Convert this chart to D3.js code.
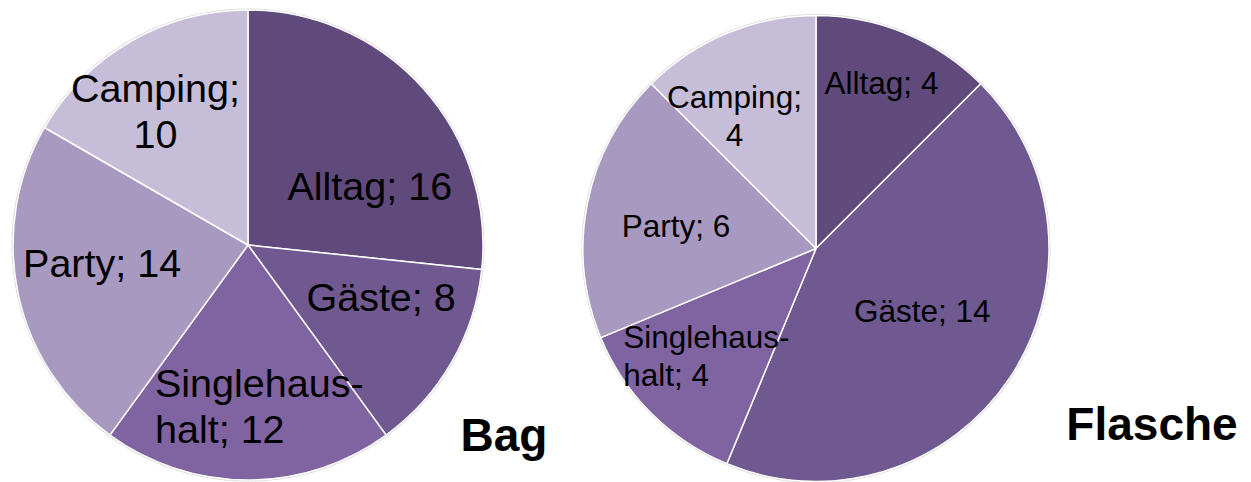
<!DOCTYPE html>
<html>
<head>
<meta charset="utf-8">
<script src="https://cdn.jsdelivr.net/npm/d3@7"></script>
<style>
  html, body { margin: 0; padding: 0; background: #ffffff; }
  svg { display: block; }
  text { font-family: "Liberation Sans", Arial, sans-serif; }
</style>
</head>
<body>
<svg id="chart" width="1251" height="482"></svg>
<script>
// ---- data ----
const categories = ["Alltag", "Gäste", "Singlehaushalt", "Party", "Camping"];
const bagValues = [16, 8, 12, 14, 10];
const flascheValues = [4, 14, 4, 6, 4];
const chartTitles = ["Bag", "Flasche"];
// label lines as displayed (category name wrapped like the original)
const bagLabelLines = [["Alltag; 16"], ["Gäste; 8"], ["Singlehaus-", "halt; 12"], ["Party; 14"], ["Camping;", "10"]];
const flascheLabelLines = [["Alltag; 4"], ["Gäste; 14"], ["Singlehaus-", "halt; 4"], ["Party; 6"], ["Camping;", "4"]];

// ---- styling / layout ----
const colors = ["#5f4a7b", "#6f5990", "#8064a2", "#a899c0", "#c6bdd8"];
const pies = [
  { values: bagValues, lines: bagLabelLines, cx: 248, cy: 245, r: 235, font: 39.5, lh: 46,
    offsets: [[17, 49, "middle"], [11, -5, "middle"], [-93, 11, "start"], [-8, 3, "middle"], [-22, -21, "middle"]],
    title: { x: 504, y: 451 } },
  { values: flascheValues, lines: flascheLabelLines, cx: 816, cy: 248.5, r: 233, font: 31.5, lh: 38,
    offsets: [[12, -25, "middle"], [-10, -4, "middle"], [-94, 1, "start"], [-3, 16, "middle"], [-28, -11, "middle"]],
    title: { x: 1152, y: 440 } }
];

const svg = d3.select("#chart");
const color = d3.scaleOrdinal().domain(categories).range(colors);

pies.forEach((p, pi) => {
  const data = categories.map((c, i) => ({ cat: c, value: p.values[i], idx: i }));
  const pie = d3.pie().value(d => d.value).sort(null);
  const arcs = pie(data);
  const arc = d3.arc().innerRadius(0).outerRadius(p.r);
  const labelArc = d3.arc().innerRadius(p.r * 0.6).outerRadius(p.r * 0.6);

  const g = svg.append("g").attr("transform", `translate(${p.cx},${p.cy})`);

  // soft outer edge
  g.append("circle").attr("r", p.r + 0.5).attr("fill", "none")
    .attr("stroke", "#d9d9d9").attr("stroke-width", 2);

  g.selectAll("path.slice").data(arcs).enter().append("path")
    .attr("class", "slice")
    .attr("d", arc)
    .attr("fill", d => color(d.data.cat))
    .attr("stroke", "#ffffff")
    .attr("stroke-width", 1.5)
    .attr("stroke-linejoin", "round");

  g.selectAll("text.lbl").data(arcs).enter().append("text")
    .attr("class", "lbl")
    .attr("font-size", p.font)
    .attr("fill", "#000")
    .attr("text-anchor", d => p.offsets[d.data.idx][2])
    .each(function(d) {
      const c = labelArc.centroid(d);
      const off = p.offsets[d.data.idx];
      const x = c[0] + off[0], y = c[1] + off[1];
      const t = d3.select(this);
      p.lines[d.data.idx].forEach((ln, li) => {
        t.append("tspan").attr("x", x).attr("y", y + li * p.lh).text(ln);
      });
    });

  svg.append("text")
    .attr("x", p.title.x).attr("y", p.title.y)
    .attr("text-anchor", "middle")
    .attr("font-size", 46).attr("font-weight", "bold").attr("fill", "#000")
    .text(chartTitles[pi]);
});
</script>
</body>
</html>
